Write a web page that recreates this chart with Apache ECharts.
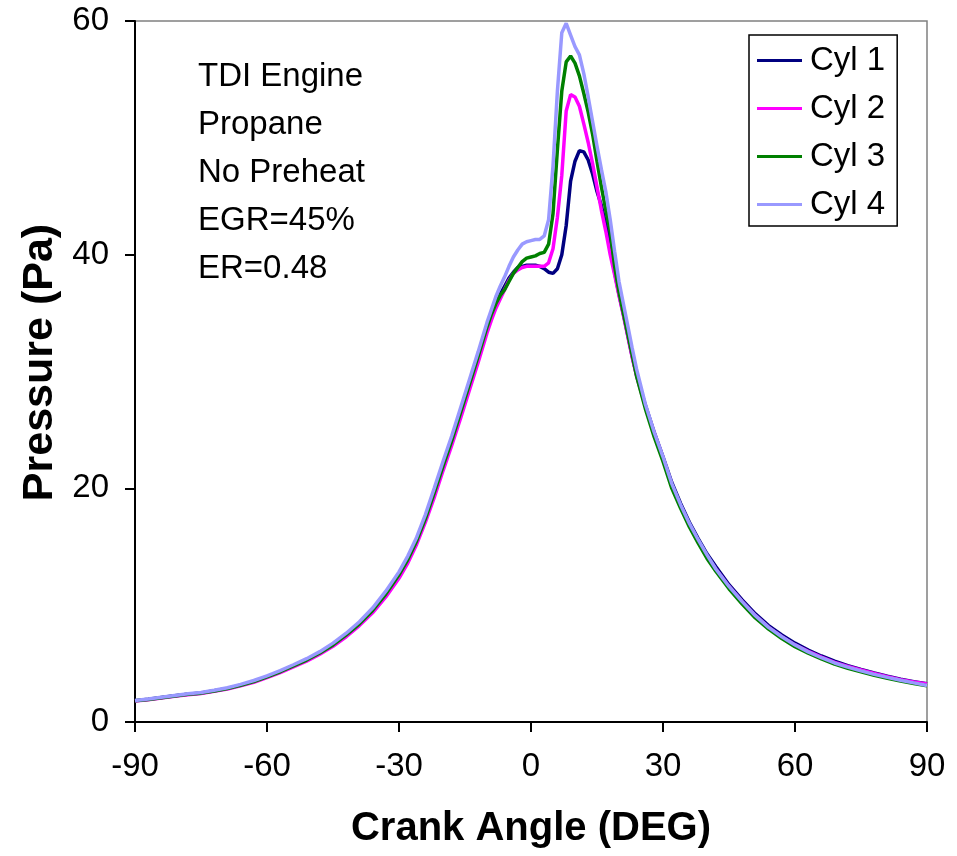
<!DOCTYPE html>
<html>
<head>
<meta charset="utf-8">
<script src="https://cdn.jsdelivr.net/npm/echarts@6/dist/echarts.min.js"></script>
<style>
html,body{margin:0;padding:0;background:#fff;}
#chart{width:957px;height:856px;}
</style>
</head>
<body>
<div id="chart"></div>
<script>
const angles = [-90,-87,-84,-81,-78,-75,-72,-69,-66,-63,-60,-57,-54,-51,-48,-45,-42,-39,-36,-33,-30,
  -28,-26,-24,-22,-20,-18,-16,-14,-12,
  -10,-9,-8,-7,-6,-5,-4,-3,-2,-1,0,1,2,3,4,5,6,7,8,9,10,11,12,13,14,15,16,17,18,19,20,21,22,23,24,
  26,28,30,32,34,36,38,40,42,
  45,48,51,54,57,60,63,66,69,72,75,78,81,84,87,90];

const cyl1 = [1.83,1.94,2.09,2.24,2.38,2.48,2.68,2.88,3.16,3.48,3.88,4.32,4.82,5.32,5.92,6.62,7.48,8.42,9.58,10.98,12.6,
  13.9,15.5,17.4,19.6,21.8,24.0,26.4,28.8,31.2,
  33.7,34.8,35.8,36.6,37.3,38.0,38.5,38.9,39.0,39.1,39.1,39.1,39.0,38.8,38.5,38.4,38.8,40.0,42.5,46.3,48.0,48.9,48.8,48.1,46.9,45.4,44.2,42.6,40.8,38.5,36.6,34.9,33.1,31.3,29.7,
  27.1,24.8,22.7,20.5,18.7,17.1,15.7,14.4,13.3,
  11.75,10.45,9.25,8.25,7.45,6.75,6.15,5.65,5.2,4.82,4.5,4.2,3.93,3.67,3.45,3.28];

const cyl2 = [1.8,1.9,2.05,2.2,2.33,2.44,2.62,2.82,3.1,3.4,3.8,4.22,4.72,5.2,5.8,6.48,7.3,8.25,9.35,10.7,12.3,
  13.6,15.2,17.1,19.2,21.5,23.7,26.0,28.4,30.8,
  33.3,34.4,35.4,36.2,37.0,37.8,38.4,38.7,38.9,39.0,39.0,39.0,39.0,39.0,39.3,40.5,43.2,46.8,52.3,53.7,53.5,52.7,51.2,49.6,47.8,45.8,43.8,42.0,40.0,38.3,36.5,34.8,33.0,31.2,29.6,
  27.0,24.7,22.6,20.3,18.5,16.9,15.5,14.2,13.1,
  11.6,10.3,9.1,8.1,7.3,6.6,6.05,5.55,5.1,4.75,4.45,4.15,3.88,3.62,3.42,3.25];

const cyl3 = [1.82,1.93,2.08,2.22,2.37,2.47,2.66,2.86,3.14,3.46,3.86,4.3,4.8,5.3,5.9,6.6,7.45,8.4,9.55,10.95,12.6,
  13.9,15.5,17.4,19.6,21.9,24.1,26.5,28.9,31.3,
  33.8,34.9,35.8,36.5,37.0,37.7,38.4,38.9,39.4,39.7,39.8,39.9,40.1,40.2,40.9,43.5,49.0,54.0,56.5,57.0,56.4,55.3,53.8,52.2,50.3,48.0,45.8,43.8,42.0,39.0,36.8,35.0,33.2,31.4,29.6,
  26.8,24.4,22.3,20.0,18.3,16.7,15.3,14.0,12.9,
  11.4,10.1,8.9,7.95,7.15,6.45,5.9,5.4,4.95,4.6,4.3,4.0,3.75,3.5,3.3,3.1];

const cyl4 = [1.85,1.97,2.12,2.27,2.42,2.52,2.72,2.93,3.22,3.55,3.95,4.4,4.9,5.42,6.02,6.75,7.6,8.58,9.75,11.2,12.85,
  14.2,15.8,17.75,20.0,22.3,24.5,26.9,29.3,31.7,
  34.2,35.3,36.4,37.3,38.1,39.0,39.8,40.4,40.9,41.1,41.2,41.3,41.3,41.6,43.0,47.6,54.0,59.0,59.8,58.8,57.8,57.1,55.5,53.5,51.4,49.3,47.3,45.4,43.0,40.3,37.7,35.8,33.9,32.0,30.2,
  27.2,24.8,22.7,20.4,18.6,17.0,15.6,14.3,13.1,
  11.6,10.3,9.1,8.1,7.3,6.6,6.0,5.5,5.05,4.7,4.38,4.08,3.82,3.57,3.35,3.12];

const seriesNames = ['Cyl 1','Cyl 2','Cyl 3','Cyl 4'];
const seriesColors = ['#000080','#FF00FF','#008000','#9999FF'];
const seriesValues = [cyl1, cyl2, cyl3, cyl4];
const xTicks = [-90,-60,-30,0,30,60,90];
const yTicks = [0,20,40,60];
const noteLines = ['TDI Engine','Propane','No Preheat','EGR=45%','ER=0.48'];

const FONT = "'Liberation Sans', Arial, Helvetica, sans-serif";

const chart = echarts.init(document.getElementById('chart'), null, {renderer:'canvas'});
chart.setOption({
  animation:false,
  backgroundColor:'#fff',
  textStyle:{fontFamily:FONT},
  title:{
    text: noteLines.join('\n'),
    left:198, top:53, padding:0,
    textStyle:{fontFamily:FONT, fontSize:33, fontWeight:'normal', color:'#000', lineHeight:48}
  },
  legend:{
    orient:'vertical',
    left:749, top:35,
    padding:[9,12,5,8],
    itemGap:15,
    itemWidth:45, itemHeight:3,
    icon:'rect',
    borderColor:'#000', borderWidth:1.5,
    backgroundColor:'#fff',
    textStyle:{fontFamily:FONT, fontSize:33, color:'#000', padding:[0,0,0,3]},
    data: seriesNames
  },
  grid:{left:135, right:30, top:21, bottom:134, show:true, borderColor:'#808080', borderWidth:1.5, backgroundColor:'transparent'},
  xAxis:{
    type:'value', min:xTicks[0], max:xTicks[xTicks.length-1], interval:30,
    name:'Crank Angle (DEG)', nameLocation:'middle', nameGap:87,
    nameTextStyle:{fontFamily:FONT, fontSize:40, fontWeight:'bold', color:'#000'},
    axisLine:{show:true, onZero:false, lineStyle:{color:'#000', width:2}},
    axisTick:{show:true, inside:false, length:10, lineStyle:{color:'#000', width:2}},
    axisLabel:{fontFamily:FONT, fontSize:33, color:'#000', margin:28},
    splitLine:{show:false}
  },
  yAxis:{
    type:'value', min:yTicks[0], max:yTicks[yTicks.length-1], interval:20,
    name:'Pressure (Pa)', nameLocation:'middle', nameGap:72,
    nameTextStyle:{fontFamily:FONT, fontSize:43, fontWeight:'bold', color:'#000', padding:[0,0,0,18]},
    axisLine:{show:true, onZero:false, lineStyle:{color:'#000', width:2}},
    axisTick:{show:true, inside:false, length:10, lineStyle:{color:'#000', width:2}},
    axisLabel:{fontFamily:FONT, fontSize:33, color:'#000', margin:26},
    splitLine:{show:false}
  },
  series: seriesNames.map((n,i)=>({
    name:n, type:'line', showSymbol:false, symbol:'none', smooth:false,
    color:seriesColors[i],
    lineStyle:{color:seriesColors[i], width:3.5},
    data: angles.map((a,k)=>[a, seriesValues[i][k]]),
    z: 2+i
  }))
});
</script>
</body>
</html>
